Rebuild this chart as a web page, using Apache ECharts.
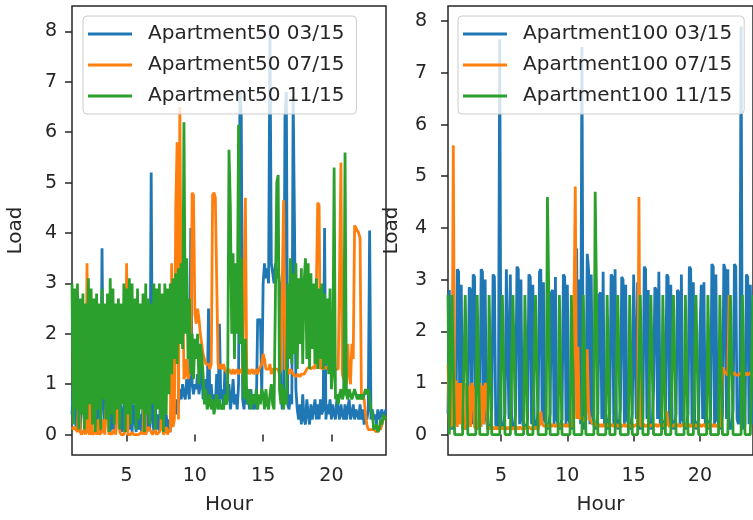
<!DOCTYPE html>
<html>
<head>
    <meta charset="utf-8">
    <title>Apartment load profiles</title>
    <script src="https://cdn.jsdelivr.net/npm/echarts@6.0.0/dist/echarts.min.js"></script>
    <style>
        body, html { margin: 0; padding: 0; background: #fff; }
        #main { width: 753px; height: 520px; }
    </style>
</head>
<body>
    <div id="main"></div>
    <script>
        // samples every 0.1 hour from 1.0 to 24.0 (one row = one hour)
        const T0 = 1, DT = 0.1;

        const seriesNames50 = ['Apartment50 03/15', 'Apartment50 07/15', 'Apartment50 11/15'];
        const seriesNames100 = ['Apartment100 03/15', 'Apartment100 07/15', 'Apartment100 11/15'];

        const loadB50 = [
            0.4,1.1,0.6,0.1,0.9,0.5,0.05,0.8,1.0,0.3,
            0.6,0.1,1.1,0.4,0.05,0.9,0.3,0.7,0.1,1.0,
            0.5,0.05,3.7,0.6,0.1,0.9,0.3,1.1,0.05,0.5,
            0.1,0.8,0.05,0.5,1.0,0.1,0.6,0.05,0.4,0.9,
            0.05,0.5,0.1,1.2,0.05,0.6,0.3,0.05,0.8,0.1,
            0.4,0.05,0.6,0.1,0.9,0.05,0.5,0.1,5.2,0.3,
            0.05,0.6,0.1,0.4,0.05,0.9,0.1,0.5,0.05,0.4,
            0.1,0.3,0.05,0.6,0.2,0.5,0.4,0.7,0.6,0.9,
            0.7,1.0,0.8,0.7,1.1,0.9,0.7,4.1,1.0,0.8,
            1.0,0.9,1.2,0.8,1.0,1.4,0.7,0.9,1.1,0.6,
            2.5,0.6,1.0,0.5,0.8,0.6,1.2,0.5,2.2,0.7,
            0.9,0.5,1.3,0.6,0.8,1.0,0.5,0.7,1.1,0.6,
            0.8,0.5,1.0,6.8,6.3,0.7,0.5,1.0,0.6,0.8,
            0.5,0.9,0.6,0.5,0.8,0.5,2.3,2.2,2.3,0.8,
            3.0,3.4,3.1,3.3,3.0,8.1,3.4,3.2,3.0,3.4,
            3.1,3.3,3.0,0.9,0.5,0.7,6.3,6.8,0.6,0.5,
            0.8,0.6,6.7,4.1,0.9,0.5,0.3,0.6,0.2,0.8,
            0.3,0.2,0.7,0.4,0.2,0.6,0.3,0.5,0.7,0.3,
            0.6,0.3,0.7,0.4,0.5,4.1,0.3,0.6,0.4,0.7,
            0.3,0.6,0.4,0.3,0.7,0.5,0.3,0.6,0.4,0.3,
            0.6,0.3,0.5,0.7,0.3,0.4,0.6,0.3,0.5,0.4,
            0.3,0.6,0.3,0.5,0.2,0.4,0.3,0.5,4.05,0.3,
            0.5,0.3,0.4,0.2,0.5,0.3,0.4,0.5,0.3,0.4,
            0.5
        ];
        const loadO50 = [
            0.15,0.1,0.15,0.1,0.05,0.9,0.05,0.0,0.0,0.1,
            0.0,3.4,0.05,0.0,0.9,0.0,0.0,0.05,0.0,0.3,
            0.0,0.0,0.05,0.3,0.0,0.0,1.1,0.0,0.05,0.0,
            0.0,0.1,0.0,0.0,1.0,0.05,0.0,0.0,0.0,0.1,
            3.4,0.0,0.0,0.0,0.05,0.0,0.0,0.0,0.0,0.0,
            0.0,0.05,0.0,1.1,0.0,0.0,0.15,0.1,0.1,0.0,
            0.05,0.1,0.0,0.0,0.05,0.1,1.0,0.0,0.05,0.15,
            0.0,0.1,0.05,3.4,0.15,0.3,4.5,5.8,0.3,6.5,
            2.5,3.5,1.1,1.2,1.5,1.1,1.2,1.3,4.8,4.75,
            2.4,2.2,2.5,2.3,2.0,1.8,1.6,1.5,1.4,1.4,
            1.4,1.3,1.4,4.75,4.8,4.7,4.7,1.4,1.3,1.4,
            1.3,1.4,1.3,1.3,1.2,1.3,1.3,1.2,1.3,1.2,
            1.2,1.3,1.2,1.2,1.3,1.2,1.2,4.7,1.2,1.3,
            1.2,1.2,1.3,1.2,1.2,1.3,1.2,1.3,1.3,1.4,
            1.6,1.5,1.3,1.3,1.3,1.4,1.2,1.3,1.3,1.3,
            1.3,1.3,1.2,1.3,1.3,4.65,1.3,1.3,1.3,1.2,
            1.3,1.3,1.2,1.2,1.15,1.2,1.2,1.15,1.2,1.2,
            1.2,1.25,1.3,1.3,1.35,1.3,1.3,1.35,1.3,1.3,
            4.6,4.55,1.3,1.35,1.3,1.3,1.35,1.3,1.3,1.3,
            1.3,1.3,1.35,1.3,1.3,1.3,1.3,5.4,1.2,1.1,
            1.1,1.0,1.8,1.2,1.0,1.8,1.5,4.15,4.1,4.1,
            4.0,3.9,0.7,0.75,0.7,0.4,0.2,0.1,0.1,0.1,
            0.1,0.1,0.1,0.05,0.1,0.15,0.1,0.2,0.3,0.3,
            0.35
        ];
        const loadG50 = [
            3.0,0.2,2.9,0.5,3.0,0.1,2.7,0.4,2.8,0.1,
            2.6,0.3,3.1,0.6,2.9,0.2,2.7,0.05,2.8,0.5,
            2.6,0.1,2.9,0.7,2.6,0.3,2.8,0.05,3.1,0.4,
            2.9,0.2,2.6,0.5,2.7,0.1,2.6,0.6,3.0,0.05,
            2.9,0.4,3.1,0.2,3.0,0.6,2.7,0.1,2.9,0.3,
            2.6,0.5,2.8,0.05,3.0,0.4,2.7,0.2,2.6,0.6,
            3.0,0.1,2.9,0.5,3.0,0.3,2.8,0.05,3.0,0.4,
            2.9,0.8,3.0,1.2,3.1,1.5,3.2,1.4,3.3,1.8,
            3.4,1.7,6.2,2.0,3.5,1.5,2.7,1.2,2.0,1.1,
            1.9,1.5,2.0,1.0,1.8,1.6,1.2,0.6,0.9,0.5,
            0.6,0.8,0.5,0.7,0.4,0.6,0.8,0.5,0.7,0.5,
            0.6,0.5,0.8,0.6,0.7,5.65,4.5,2.0,3.6,1.5,
            3.4,2.0,6.15,1.8,3.5,1.6,0.7,1.9,0.8,0.6,
            0.9,0.5,0.7,0.8,0.6,0.9,0.5,0.8,0.6,0.9,
            0.8,0.5,0.9,0.6,0.5,0.8,1.0,0.6,0.5,0.5,
            5.0,5.15,0.9,0.6,1.0,0.5,0.9,0.6,3.0,1.5,
            3.5,1.4,3.2,1.6,3.4,1.3,3.1,1.8,3.3,1.4,
            3.0,3.5,1.5,3.4,1.3,3.2,1.7,3.0,1.4,3.1,
            1.3,2.9,1.5,3.0,1.3,2.8,1.4,2.7,1.2,2.9,
            0.9,1.2,5.3,0.7,0.8,0.6,0.8,0.9,0.7,0.8,
            5.6,0.8,0.7,0.9,0.8,0.7,0.8,0.9,0.8,0.7,
            0.8,0.7,0.8,0.7,0.8,0.9,0.8,0.9,0.7,0.5,
            0.4,0.1,0.1,0.2,0.05,0.1,0.3,0.2,0.4,0.3,
            0.35
        ];

        const loadB100 = [
            0.4,2.8,0.2,0.1,0.2,0.3,0.2,3.2,3.15,0.2,
            2.9,0.1,0.3,0.1,0.2,0.4,2.85,2.8,0.2,3.1,
            3.05,0.2,0.1,0.2,0.3,3.2,3.15,0.2,3.0,0.3,
            0.1,0.2,0.1,0.5,3.1,3.05,0.2,0.1,0.3,7.65,
            0.2,0.1,0.2,0.4,3.2,3.2,0.3,3.1,0.2,0.1,
            0.2,0.4,3.25,3.2,0.2,3.0,0.3,0.1,0.2,0.1,
            0.3,3.1,3.05,0.2,2.9,0.3,0.1,0.2,0.5,3.15,
            3.2,0.2,2.95,0.3,0.2,0.1,0.2,0.4,2.75,2.8,
            0.2,3.05,0.3,0.2,0.1,0.2,0.3,3.1,3.05,0.2,
            2.9,0.3,0.2,0.1,0.2,0.4,3.2,3.6,0.3,3.0,
            0.2,7.5,0.2,0.1,0.3,3.5,3.2,0.2,3.1,0.4,
            0.2,0.1,0.2,0.4,2.7,2.75,0.3,3.15,0.2,0.4,
            0.2,0.1,0.4,3.1,3.05,0.2,3.2,0.3,0.1,0.2,
            0.5,3.05,3.0,0.2,2.9,0.3,0.2,0.1,0.2,0.4,
            3.1,3.1,0.3,2.95,0.2,0.1,0.2,0.3,3.25,3.2,
            0.3,2.8,0.2,0.1,0.2,0.85,2.85,2.8,0.3,3.15,
            0.2,0.4,0.1,0.2,0.3,3.1,3.05,0.2,2.9,0.3,
            0.1,0.2,0.4,2.8,2.75,0.2,3.1,0.3,0.2,0.1,
            0.2,0.4,3.25,3.2,0.2,2.95,0.3,0.1,0.2,0.3,
            2.0,2.9,0.3,2.95,0.2,0.4,0.1,0.2,0.3,3.3,
            3.25,0.2,3.1,0.3,0.2,0.1,0.2,0.4,3.3,3.2,
            0.3,3.2,0.2,0.1,0.2,0.5,3.3,3.25,0.3,0.2,
            0.4,7.9,0.2,0.1,0.2,3.1,3.05,0.2,2.9,0.3,
            0.2
        ];
        const loadO100 = [
            1.35,0.2,0.15,0.2,5.6,0.2,1.05,0.15,1.0,0.2,
            1.0,0.15,0.1,0.15,1.0,0.2,0.95,0.15,1.0,0.9,
            0.15,0.1,0.15,0.2,1.0,0.15,0.95,0.2,1.0,0.9,
            0.15,0.1,0.15,0.1,0.15,0.1,0.15,0.1,0.15,0.1,
            0.15,0.1,0.15,0.15,0.1,0.15,0.1,0.15,0.15,0.1,
            0.15,0.1,0.15,0.1,0.15,0.15,0.1,0.15,0.1,0.15,
            0.1,0.15,0.15,0.1,0.15,0.1,0.15,0.15,0.1,0.2,
            0.45,0.2,0.2,0.15,0.2,0.2,0.15,0.2,0.15,0.2,
            0.2,0.15,0.2,0.2,0.15,0.2,0.15,0.2,0.2,0.15,
            0.2,0.15,0.2,0.15,0.2,0.2,4.8,0.3,1.7,0.3,
            0.3,0.35,0.3,0.25,0.3,1.65,0.5,0.3,0.25,0.2,
            0.25,0.2,0.2,0.15,0.2,0.15,0.2,0.15,0.2,0.15,
            0.15,0.2,0.15,0.15,0.2,0.15,0.15,0.2,0.15,0.15,
            0.2,0.15,0.15,0.2,0.15,0.15,0.2,0.15,0.15,0.2,
            0.15,0.15,0.2,0.15,4.6,0.2,0.15,0.15,0.2,0.15,
            0.15,0.2,0.15,0.15,0.2,0.15,0.15,0.2,0.15,0.15,
            0.2,0.15,0.15,0.2,0.15,0.45,0.2,0.15,0.2,0.15,
            0.15,0.2,0.15,0.15,0.2,0.15,0.15,0.2,0.15,0.2,
            0.2,0.15,0.2,0.15,0.15,0.2,0.15,0.2,0.15,0.15,
            0.2,0.15,0.15,0.2,0.15,0.15,0.2,0.15,0.15,0.2,
            0.15,0.2,0.15,0.15,0.2,0.15,0.2,1.3,1.25,1.2,
            1.2,1.15,2.7,1.2,1.15,1.15,1.2,1.15,1.15,1.15,
            1.15,1.2,1.15,1.15,1.15,1.2,1.15,1.15,1.2,1.15,
            1.15
        ];
        const loadG100 = [
            2.7,0,0,2.7,2.7,0,0,0,0,0,
            0,0,0,2.7,2.7,0,0,0,0,0,
            0,0,2.7,2.7,0,0,0,0,0,0,
            0,2.7,2.7,0,0,0,0,0,0,0,
            0,2.7,2.7,0,0,0,0,0,0,2.7,
            2.7,0,0,0,0,0,0,0,2.7,2.7,
            0,0,0,0,0,0,2.7,2.7,0,0,
            0,0,0,0,0,4.6,2.7,0,0,0,
            0,0,0,0,2.7,2.7,0,0,0,0,
            0,0,0,2.7,2.7,0,0,0,0,0,
            0,0,2.7,2.7,0,0,0,0,0,0,
            0,4.7,2.7,0,0,0,0,0,0,0,
            2.7,2.7,0,0,0,0,0,0,2.7,2.7,
            0,0,0,0,0,0,0,2.7,2.7,0,
            0,0,0,0,0,2.7,2.7,0,0,0,
            0,0,0,2.7,2.7,0,0,0,0,0,
            0,0,2.7,2.7,0,0,0,0,0,0,
            2.7,2.7,0,0,0,0,0,0,0,2.7,
            2.7,0,0,0,0,0,0,2.7,2.7,0,
            0,0,0,0,0,0,2.7,2.7,0,0,
            0,0,0,0,0,2.7,2.7,0,0,0,
            0,0,0,2.7,2.7,0,0,0,0,0,
            0,0,2.7,2.7,0,0,0,0,0,0,
            2.7
        ];

        const colors = ['#1f77b4', '#ff7f0e', '#2ca02c'];
        const FONT = 'DejaVu Sans';
        const INK = '#262626';

        function toPairs(vals) {
            return vals.map((v, i) => [+(T0 + i * DT).toFixed(1), v]);
        }

        function makeX(gridIndex) {
            return {
                type: 'value', gridIndex: gridIndex, min: 1, max: 24,
                name: 'Hour', nameLocation: 'middle', nameGap: 40,
                nameTextStyle: { fontFamily: FONT, fontSize: 20, color: INK },
                axisLine: { show: false },
                axisTick: { show: true, length: 7, lineStyle: { color: INK, width: 1.5 }, customValues: [5, 10, 15, 20] },
                axisLabel: { fontFamily: FONT, fontSize: 19, color: INK, margin: 12, customValues: [5, 10, 15, 20] },
                splitLine: { show: false }
            };
        }
        function makeY(gridIndex, min, max, labelMargin) {
            return {
                type: 'value', gridIndex: gridIndex, min: min, max: max,
                name: 'Load', nameLocation: 'middle', nameGap: 46,
                nameTextStyle: { fontFamily: FONT, fontSize: 20, color: INK },
                axisLine: { show: false },
                axisTick: { show: true, length: 7, lineStyle: { color: INK, width: 1.5 }, customValues: [0, 1, 2, 3, 4, 5, 6, 7, 8] },
                axisLabel: { fontFamily: FONT, fontSize: 19, color: INK, margin: labelMargin, customValues: [0, 1, 2, 3, 4, 5, 6, 7, 8] },
                splitLine: { show: false }
            };
        }
        function makeLegend(names, left) {
            return {
                data: names, orient: 'vertical', left: left, top: 16,
                icon: 'rect', itemWidth: 44, itemHeight: 3, itemGap: 11,
                padding: [8, 12, 8, 5],
                backgroundColor: 'rgba(255,255,255,0.8)',
                borderColor: '#cccccc', borderWidth: 1, borderRadius: 4,
                textStyle: { fontFamily: FONT, fontSize: 20, color: INK, padding: [0, 0, 0, 11] }
            };
        }
        function makeSeries(name, vals, color, idx) {
            return {
                name: name, type: 'line', xAxisIndex: idx, yAxisIndex: idx,
                data: toPairs(vals), showSymbol: false, symbol: 'none',
                color: color, lineStyle: { color: color, width: 2.8 },
                emphasis: { disabled: true }, silent: true
            };
        }

        const chart = echarts.init(document.getElementById('main'), null, { renderer: 'canvas' });
        chart.setOption({
            animation: false,
            backgroundColor: '#ffffff',
            grid: [
                { left: 72, top: 6, width: 314, height: 450, show: true, borderColor: INK, borderWidth: 1.5, backgroundColor: 'transparent' },
                { left: 448, top: 6, width: 314, height: 450, show: true, borderColor: INK, borderWidth: 1.5, backgroundColor: 'transparent' }
            ],
            xAxis: [makeX(0), makeX(1)],
            yAxis: [makeY(0, -0.405, 8.505, 15), makeY(1, -0.395, 8.295, 21)],
            legend: [makeLegend(seriesNames50, 83), makeLegend(seriesNames100, 458)],
            series: [
                makeSeries(seriesNames50[0], loadB50, colors[0], 0),
                makeSeries(seriesNames50[1], loadO50, colors[1], 0),
                makeSeries(seriesNames50[2], loadG50, colors[2], 0),
                makeSeries(seriesNames100[0], loadB100, colors[0], 1),
                makeSeries(seriesNames100[1], loadO100, colors[1], 1),
                makeSeries(seriesNames100[2], loadG100, colors[2], 1)
            ]
        });
    </script>
</body>
</html>
